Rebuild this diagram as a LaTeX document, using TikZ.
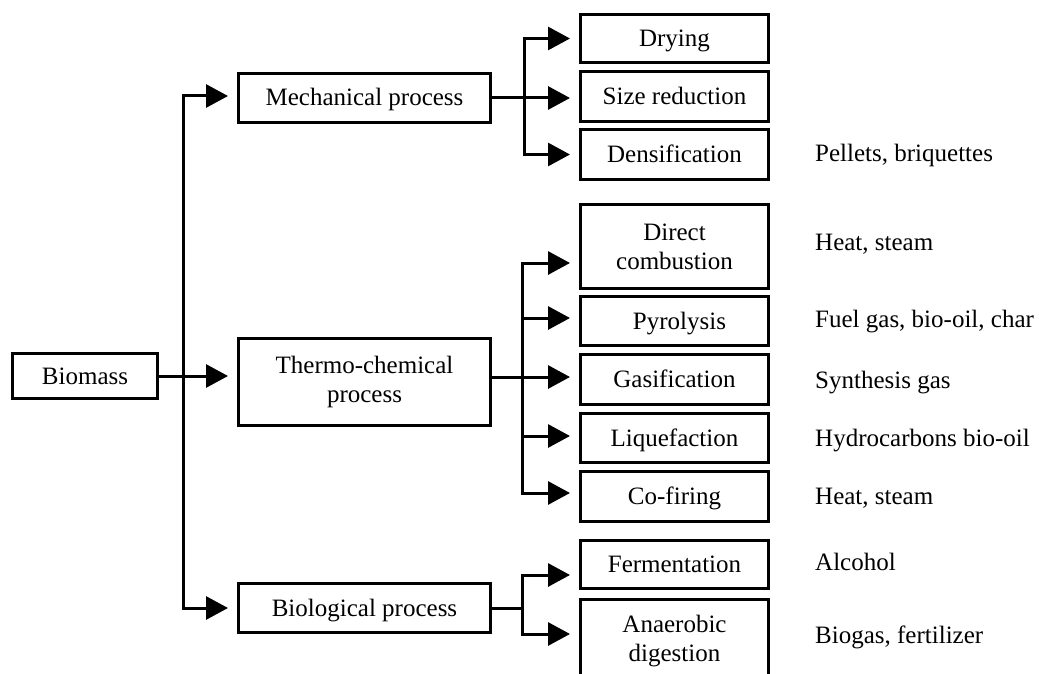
\documentclass[tikz,border=0pt]{standalone}
\usepackage{fontspec}
\setmainfont{Liberation Serif}
\usetikzlibrary{arrows.meta}
\begin{document}
\begin{tikzpicture}[x=1pt,y=-1pt,
  every node/.style={font=\fontsize{25}{29}\selectfont},
  boxbase/.style={draw, line width=3pt, inner sep=0pt, align=center},
  one/.style={boxbase, text height=20pt, text depth=4pt},
  proc/.style={minimum width=252pt},
  sub/.style={minimum width=188pt},
  outlbl/.style={anchor=west, inner sep=0pt, text height=18pt, text depth=5pt},
  conn/.style={line width=3pt},
  arr/.style={conn, -{Triangle[length=22pt,width=23pt]}, shorten >=9pt}]
\useasboundingbox (0,0) rectangle (1039,674);
\clip (0,0) rectangle (1039,674);

% first level
\node[one, minimum width=145pt, minimum height=45pt] (bio) at (85,376) {Biomass};
% second level
\node[one, proc, minimum height=49pt] (mech) at (364.5,98) {Mechanical process};
\node[boxbase, proc, minimum height=87pt] (thermo) at (364.5,382) {Thermo-chemical\\process};
\node[one, proc, minimum height=49pt] (biol) at (364.5,608) {Biological process};
% third level
\node[one, sub, minimum height=48pt] (dry) at (674.5,38.5) {Drying};
\node[one, sub, minimum height=50pt] (size) at (674.5,96.5) {Size reduction};
\node[one, sub, minimum height=50pt] (dens) at (674.5,154.5) {Densification};
\node[boxbase, sub, minimum height=84pt] (dc) at (674.5,246.5) {Direct\\combustion};
\node[one, sub, minimum height=49pt] (pyr) at (674.5,321) {\hspace*{10pt}Pyrolysis};
\node[one, sub, minimum height=50pt] (gas) at (674.5,379.5) {Gasification};
\node[one, sub, minimum height=49pt] (liq) at (674.5,438) {Liquefaction};
\node[one, sub, minimum height=50pt] (cof) at (674.5,496.5) {Co-firing};
\node[one, sub, minimum height=48pt] (ferm) at (674.5,564.5) {Fermentation};
\node[boxbase, sub, minimum height=84pt] (ana) at (674.5,641.5) {Anaerobic\\digestion};
% products
\node[outlbl] (p1) at (815,155) {Pellets, briquettes};
\node[outlbl] (p2) at (815,243.5) {Heat, steam};
\node[outlbl] (p3) at (815,320.5) {Fuel gas, bio-oil, char};
\node[outlbl] (p4) at (815,381.5) {Synthesis gas};
\node[outlbl] (p5) at (815,439.5) {Hydrocarbons bio-oil};
\node[outlbl] (p6) at (815,497.5) {Heat, steam};
\node[outlbl] (p7) at (815,563.5) {Alcohol};
\node[outlbl] (p8) at (815,636.5) {Biogas, fertilizer};

% junctions
\coordinate (j0) at (183,376);
\coordinate (j1) at (524,98);
\coordinate (j2) at (522,377);
\coordinate (j3) at (522,608);

% biomass to processes
\draw[arr] (bio.east) -- (bio.east -| thermo.west);
\draw[arr] (j0) |- ([yshift=2pt]mech.west);
\draw[arr] (j0) |- (biol.west);

% mechanical
\draw[conn] (mech.east) -- (j1);
\draw[arr] (j1) |- (dry.west);
\draw[arr] (j1) -- (j1 -| size.west);
\draw[arr] (j1) |- (dens.west);

% thermo-chemical
\draw[conn] ([yshift=5pt]thermo.east) -- (j2);
\draw[arr] (j2) |- ([yshift=-16.5pt]dc.west);
\draw[arr] (j2) |- ([yshift=3pt]pyr.west);
\draw[arr] (j2) -- (j2 -| gas.west);
\draw[arr] (j2) |- ([yshift=2pt]liq.west);
\draw[arr] (j2) |- ([yshift=3.5pt]cof.west);

% biological
\draw[conn] (biol.east) -- (j3);
\draw[arr] (j3) |- ([yshift=-10.5pt]ferm.west);
\draw[arr] (j3) |- ([yshift=7.5pt]ana.west);
\end{tikzpicture}
\end{document}
